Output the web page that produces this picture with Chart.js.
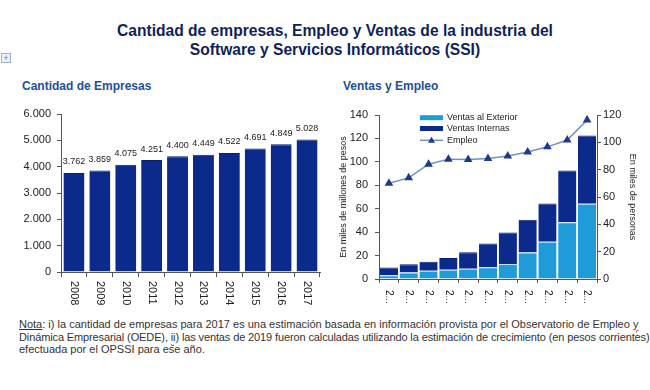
<!DOCTYPE html>
<html>
<head>
<meta charset="utf-8">
<script src="https://cdn.jsdelivr.net/npm/chart.js@4.4.1/dist/chart.umd.min.js"></script>
<style>
  body { margin: 0; background: #fff; width: 650px; height: 390px; position: relative; overflow: hidden;
         font-family: 'Liberation Sans', Arial, sans-serif; }
  #title { position: absolute; left: 10px; top: 21px; width: 650px; text-align: center;
           font-size: 15.6px; font-weight: bold; line-height: 19px; color: #0f1f5c; }
  .sub { position: absolute; top: 79px; font-size: 12px; font-weight: bold; color: #1f4e9c; }
  #icon { position: absolute; left: 1px; top: 53px; width: 8px; height: 8px; border: 1px solid #9ab0cc;
          font-size: 9px; line-height: 8px; text-align: center; color: #5a7fb0; background: #eef3fa; }
  .box { position: absolute; }
  #nota { position: absolute; left: 19px; top: 318px; font-size: 11px; line-height: 12.5px; color: #333;
          white-space: nowrap; }
  #nota u { text-decoration: underline; }
  .sq { text-decoration: underline wavy #d33; }
</style>
</head>
<body>
<div id="icon">+</div>
<div id="title">Cantidad de empresas, Empleo y Ventas de la industria del<br>Software y Servicios Informáticos (SSI)</div>
<div class="sub" style="left:22px">Cantidad de Empresas</div>
<div class="sub" style="left:343px">Ventas y Empleo</div>

<div class="box" style="left:0;top:100px;width:330px;height:210px"><canvas id="empresas"></canvas></div>
<div class="box" style="left:330px;top:100px;width:320px;height:210px"><canvas id="ventas"></canvas></div>

<div id="nota">
  <div><u>Nota</u>: i) la cantidad de empresas para 2017 es una estimación basada en información provista por el Observatorio de Empleo <span class="sq">y</span></div>
  <div style="letter-spacing:-0.12px">Dinámica Empresarial (OEDE), <span class="sq">ii)</span> las ventas de 2019 fueron calculadas utilizando la estimación de crecimiento (en pesos corrientes)</div>
  <div>efectuada por el OPSSI para ese año.</div>
</div>

<script>
'use strict';

// cantidad de empresas
let yearsEmpresas = ['2008', '2009', '2010', '2011', '2012', '2013', '2014', '2015', '2016', '2017'];
let empresas = [3762, 3859, 4075, 4251, 4400, 4449, 4522, 4691, 4849, 5028];

// ventas y empleo
let yearsVentas = ['2009', '2010', '2011', '2012', '2013', '2014', '2015', '2016', '2017', '2018', '2019'];
let ventasExterior = [3.3, 5.6, 7.0, 7.9, 8.8, 10.0, 12.7, 22.7, 31.8, 48.5, 64.3];
let ventasInternas = [6.5, 6.9, 7.7, 10.0, 14.0, 20.2, 26.9, 27.9, 32.7, 44.1, 58.3];
let empleo = [70.0, 74.0, 84.0, 87.7, 87.4, 88.1, 90.0, 93.0, 96.7, 101.7, 116.4];

let ventasTicks = [0, 20, 40, 60, 80, 100, 120, 140];
let empleoTicks = [0, 20, 40, 60, 80, 100, 120];

const FONT = "'Liberation Sans', Arial, sans-serif";
const AXIS = '#555';
const NAVY = '#0c2a8c';
const LIGHT = '#1e9bd8';

function miles(v) {
  return String(v).replace(/\B(?=(\d{3})+(?!\d))/g, '.');
}

// x labels rotated clockwise (reading top to bottom)
function xLabelsPlugin(offset, size, format) {
  return {
    id: 'xlabels',
    afterDraw(chart) {
      let ctx = chart.ctx;
      let x = chart.scales.x;
      ctx.save();
      ctx.font = size + 'px ' + FONT;
      ctx.fillStyle = '#222';
      ctx.textAlign = 'left';
      ctx.textBaseline = 'middle';
      chart.data.labels.forEach(function (label, i) {
        ctx.save();
        ctx.translate(x.getPixelForValue(i), chart.chartArea.bottom + offset);
        ctx.rotate(Math.PI / 2);
        ctx.fillText(format(label), 0, 0);
        ctx.restore();
      });
      ctx.restore();
    }
  };
}

const valueLabels = {
  id: 'valueLabels',
  afterDatasetsDraw(chart) {
    let ctx = chart.ctx;
    let meta = chart.getDatasetMeta(0);
    ctx.save();
    ctx.font = '9px ' + FONT;
    ctx.fillStyle = '#222';
    ctx.textAlign = 'center';
    ctx.textBaseline = 'middle';
    meta.data.forEach(function (bar, i) {
      ctx.fillText(miles(chart.data.datasets[0].data[i]), bar.x, bar.y - 11);
    });
    ctx.restore();
  }
};

const legendVentas = {
  id: 'legendVentas',
  afterDraw(chart) {
    let ctx = chart.ctx;
    let x0 = 90, x1 = 113, tx = 117;
    let rows = [17.7, 28.5, 40.3];
    ctx.save();
    ctx.font = '9px ' + FONT;
    ctx.textBaseline = 'middle';
    ctx.textAlign = 'left';
    ctx.fillStyle = LIGHT;
    ctx.fillRect(x0, rows[0] - 2.5, x1 - x0, 5);
    ctx.fillStyle = NAVY;
    ctx.fillRect(x0, rows[1] - 2.5, x1 - x0, 5);
    ctx.strokeStyle = '#7090c8';
    ctx.lineWidth = 1.5;
    ctx.beginPath();
    ctx.moveTo(x0, rows[2]);
    ctx.lineTo(x1, rows[2]);
    ctx.stroke();
    let cx = (x0 + x1) / 2;
    ctx.fillStyle = '#1c3a8e';
    ctx.beginPath();
    ctx.moveTo(cx, rows[2] - 3.5);
    ctx.lineTo(cx + 3.5, rows[2] + 2.5);
    ctx.lineTo(cx - 3.5, rows[2] + 2.5);
    ctx.closePath();
    ctx.fill();
    ctx.fillStyle = '#222';
    ctx.fillText('Ventas al Exterior', tx, rows[0]);
    ctx.fillText('Ventas Internas', tx, rows[1]);
    ctx.fillText('Empleo', tx, rows[2]);
    ctx.restore();
  }
};

new Chart(document.getElementById('empresas'), {
  type: 'bar',
  data: {
    labels: yearsEmpresas,
    datasets: [{
      data: empresas,
      backgroundColor: NAVY,
      borderColor: '#081f6a',
      borderWidth: { top: 1 },
      barPercentage: 0.81,
      categoryPercentage: 1
    }]
  },
  options: {
    responsive: true,
    maintainAspectRatio: false,
    animation: false,
    layout: { padding: { top: 14, right: 10, bottom: 0, left: 0 } },
    plugins: { legend: { display: false }, tooltip: { enabled: false } },
    scales: {
      x: {
        afterFit: function (s) { s.height = 38; },
        grid: { offset: true, drawOnChartArea: false, tickLength: 5, color: AXIS },
        border: { color: AXIS },
        ticks: { display: false }
      },
      y: {
        min: 0,
        max: 6000,
        afterFit: function (s) { s.width = 61; },
        grid: { drawOnChartArea: false, tickLength: 4, color: AXIS },
        border: { color: AXIS },
        ticks: {
          stepSize: 1000,
          padding: 6,
          color: '#222',
          font: { family: FONT, size: 11 },
          callback: function (v) { return miles(v); }
        }
      }
    }
  },
  plugins: [valueLabels, xLabelsPlugin(9, 11, function (l) { return l; })]
});

new Chart(document.getElementById('ventas'), {
  type: 'bar',
  data: {
    labels: yearsVentas,
    datasets: [{
      type: 'line',
      label: 'Empleo',
      data: empleo,
      yAxisID: 'y1',
      borderColor: '#7090c8',
      borderWidth: 1.5,
      pointStyle: 'triangle',
      pointRadius: 3.5,
      pointBackgroundColor: '#1c3a8e',
      pointBorderColor: '#1c3a8e',
      order: 0
    }, {
      label: 'Ventas al Exterior',
      data: ventasExterior,
      backgroundColor: LIGHT,
      borderColor: '#bfe4f5',
      borderWidth: { top: 1 },
      stack: 'v',
      barPercentage: 0.92,
      categoryPercentage: 1,
      order: 1
    }, {
      label: 'Ventas Internas',
      data: ventasInternas,
      backgroundColor: NAVY,
      borderColor: '#081f6a',
      borderWidth: { top: 1 },
      stack: 'v',
      barPercentage: 0.92,
      categoryPercentage: 1,
      order: 1
    }]
  },
  options: {
    responsive: true,
    maintainAspectRatio: false,
    animation: false,
    layout: { padding: { top: 15, right: 0, bottom: 0, left: 0 } },
    plugins: { legend: { display: false }, tooltip: { enabled: false } },
    scales: {
      x: {
        stacked: true,
        afterFit: function (s) { s.height = 31; },
        grid: { offset: true, drawOnChartArea: false, tickLength: 4, color: AXIS },
        border: { color: AXIS },
        ticks: { display: false }
      },
      y: {
        stacked: true,
        position: 'left',
        min: 0,
        max: 140,
        afterFit: function (s) { s.width = 49; },
        afterBuildTicks: function (s) { s.ticks = ventasTicks.map(function (v) { return { value: v }; }); },
        grid: { drawOnChartArea: false, tickLength: 4, color: AXIS },
        border: { color: AXIS },
        title: {
          display: true,
          text: 'En miles de millones de pesos',
          color: '#222',
          font: { family: FONT, size: 9 },
          padding: { top: 8.6, bottom: 0 }
        },
        ticks: { padding: 7, color: '#222', font: { family: FONT, size: 11 } }
      },
      y1: {
        position: 'right',
        min: 0,
        max: 120,
        afterFit: function (s) { s.width = 53; },
        afterBuildTicks: function (s) { s.ticks = empleoTicks.map(function (v) { return { value: v }; }); },
        grid: { drawOnChartArea: false, tickLength: 4, color: AXIS },
        border: { color: AXIS },
        title: {
          display: true,
          text: 'En miles de personas',
          color: '#222',
          font: { family: FONT, size: 9 },
          padding: { top: 12.6, bottom: 0 }
        },
        ticks: { padding: 2, color: '#222', font: { family: FONT, size: 11 } }
      }
    }
  },
  plugins: [legendVentas, xLabelsPlugin(11, 10, function (l) { return l.charAt(0) + '...'; })]
});
</script>
</body>
</html>
